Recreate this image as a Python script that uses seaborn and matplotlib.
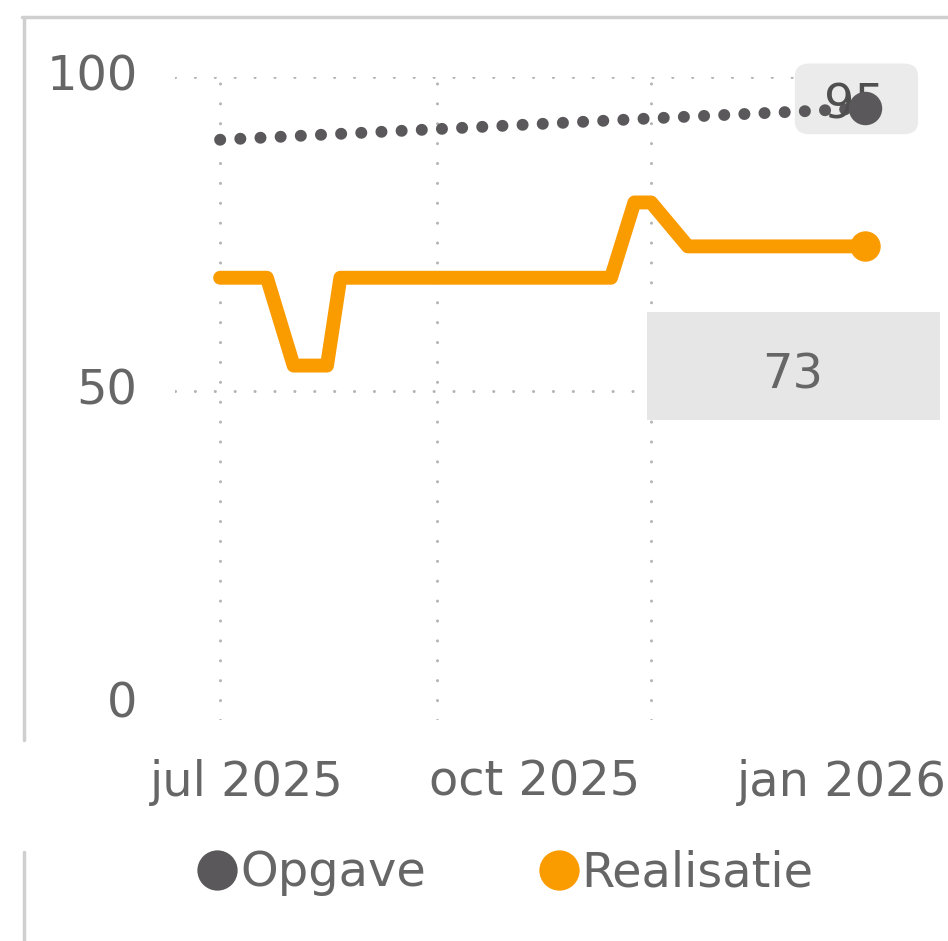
import matplotlib
matplotlib.use("Agg")
import matplotlib.pyplot as plt
import seaborn as sns
import pandas as pd
from matplotlib.lines import Line2D
from matplotlib.patches import FancyBboxPatch, Rectangle

# ---- data ----
real_dates = ["2025-06-29", "2025-07-13", "2025-07-21", "2025-07-31", "2025-08-04",
              "2025-10-24", "2025-10-31", "2025-11-05", "2025-11-16", "2026-01-08"]
real_values = [68, 68, 54, 54, 68, 68, 80, 80, 73, 73]
opg_dates = ["2025-06-29", "2025-09-02", "2025-11-05", "2026-01-08"]
opg_values = [90, 91.7, 93.4, 95]
grid_dates = ["2025-06-29", "2025-09-02", "2025-11-05"]
label_dates = ["2025-07-07", "2025-10-01", "2026-01-01"]
x_labels = ["jul 2025", "oct 2025", "jan 2026"]
y_ticks = [0, 50, 100]
series_names = ["Opgave", "Realisatie"]

ORANGE = "#FA9B00"
DARK = "#5A585A"
TXT = "#666666"
GRID = "#B4B4B4"
FS = 34.5

sns.set_theme(style="white")
plt.rcParams["font.family"] = ["DejaVu Sans"]

df_r = pd.DataFrame({"date": pd.to_datetime(real_dates), "value": real_values})
df_o = pd.DataFrame({"date": pd.to_datetime(opg_dates), "value": opg_values})

fig = plt.figure(figsize=(9.48, 9.41), dpi=100)
ax = fig.add_axes([175 / 948, (941 - 720) / 941, 725 / 948, 643 / 941])

sns.lineplot(data=df_o, x="date", y="value", ax=ax, color=DARK, linewidth=8.6,
             linestyle=(0, (0.01, 1.68)), dash_capstyle="round", zorder=3)
sns.lineplot(data=df_r, x="date", y="value", ax=ax, color=ORANGE, linewidth=10,
             solid_capstyle="round", solid_joinstyle="round", zorder=4)

# end markers
sns.scatterplot(data=df_o.tail(1), x="date", y="value", ax=ax, color=DARK, s=580,
                linewidth=0, zorder=6, clip_on=False)
sns.scatterplot(data=df_r.tail(1), x="date", y="value", ax=ax, color=ORANGE, s=480,
                linewidth=0, zorder=6, clip_on=False)

ax.set_xlim(pd.Timestamp("2025-06-15 12:00"), pd.Timestamp("2026-01-18 12:00"))
ax.set_ylim(-2.5, 100)

# ticks
ax.set_yticks(y_ticks)
ax.set_yticklabels([str(v) for v in y_ticks])
ax.set_xticks(pd.to_datetime(label_dates))
ax.set_xticklabels(x_labels)
ax.set_xticks(pd.to_datetime(grid_dates), minor=True)
ax.tick_params(axis="both", which="both", length=0, labelsize=FS, labelcolor=TXT)
ax.tick_params(axis="y", pad=27)
ax.tick_params(axis="x", pad=28)
for lbl in ax.get_yticklabels():
    lbl.set_verticalalignment("center")
ax.set_xlabel("")
ax.set_ylabel("")

# grid
ax.grid(False)
gl_kw = dict(color=GRID, linewidth=2.2, linestyle=(0, (0.01, 6.5)), dash_capstyle="round")
ax.xaxis.grid(True, which="minor", **gl_kw)
for yv in y_ticks[1:]:
    ax.axhline(yv, zorder=1, **gl_kw)

for s in ax.spines.values():
    s.set_visible(False)

# data label boxes
box95 = FancyBboxPatch((0.855 + 0.017, 0.910 + 0.018), 0.170 - 0.034, 0.112 - 0.036,
                       boxstyle="round,pad=0.017,rounding_size=0.02",
                       transform=ax.transAxes, facecolor="#EBEBEB", edgecolor="none",
                       clip_on=False, zorder=2)
ax.add_patch(box95)
ax.text(0.9379, 0.9350, f"{opg_values[-1]:.0f}", transform=ax.transAxes, ha="center",
        va="baseline", fontsize=FS, color="#4F4F4F", zorder=5, clip_on=False)

box73 = Rectangle((0.651, 0.4666), 0.404, 0.168, transform=ax.transAxes,
                  facecolor="#E6E6E6", edgecolor="none", clip_on=False, zorder=2)
ax.add_patch(box73)
ax.text(0.8524, 0.5163, f"{real_values[-1]:.0f}", transform=ax.transAxes, ha="center",
        va="baseline", fontsize=FS, color=TXT, zorder=5, clip_on=False)

# legend
handles = [Line2D([], [], marker="o", linestyle="none", markersize=29,
                  markerfacecolor=DARK, markeredgewidth=0),
           Line2D([], [], marker="o", linestyle="none", markersize=29,
                  markerfacecolor=ORANGE, markeredgewidth=0)]
leg = fig.legend(handles, series_names, loc="center", bbox_to_anchor=(0.533, 0.0723),
                 ncol=2, frameon=False, fontsize=FS, handlelength=0.85,
                 handletextpad=0.05, columnspacing=2.35, borderpad=0, borderaxespad=0)
for t in leg.get_texts():
    t.set_color(TXT)

# card border
fig.add_artist(Line2D([22 / 948, 1], [1 - 17 / 941, 1 - 17 / 941],
                      transform=fig.transFigure, color="#CFCFCF", linewidth=2.5))
fig.add_artist(Line2D([24 / 948, 24 / 948], [1 - 17 / 941, 1 - 740 / 941],
                      transform=fig.transFigure, color="#CFCFCF", linewidth=2.5))
fig.add_artist(Line2D([24 / 948, 24 / 948], [1 - 852 / 941, 0],
                      transform=fig.transFigure, color="#CFCFCF", linewidth=2.5))

fig.savefig("out.png", dpi=100)
